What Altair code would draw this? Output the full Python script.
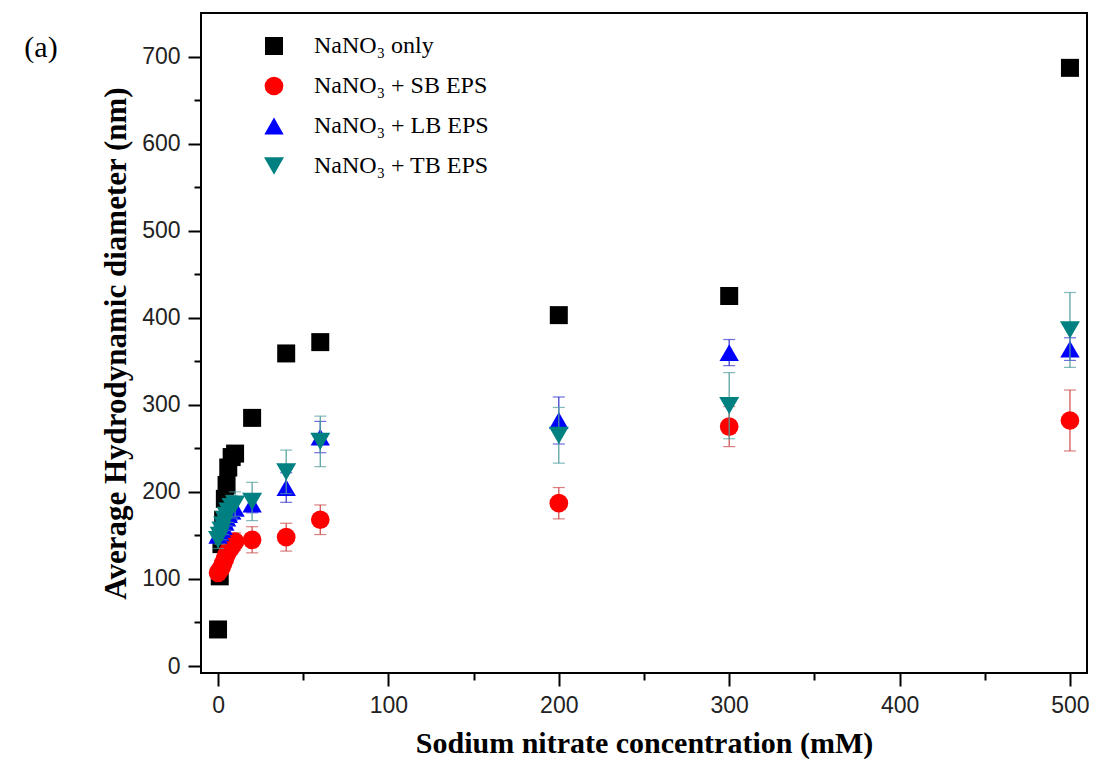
import altair as alt
import pandas as pd

# ---- data ----
series_names = ["NaNO₃ only", "NaNO₃ + SB EPS", "NaNO₃ + LB EPS", "NaNO₃ + TB EPS"]
conc = [0, 1, 2, 3, 4, 5, 6, 8, 10, 20, 40, 60, 200, 300, 500]

nano3 = [42, 103, 140, 168, 192, 208, 228, 240, 244, 285, 359, 372, 403, 425, 687]
nano3_err = [3, 3, 3, 3, 3, 3, 3, 3, 3, 4, 4, 4, 4, 4, 5]

sb = [107, 110, 113, 118, 123, 128, 132, 137, 143, 145, 148, 168, 187, 275, 282]
sb_err = [6, 6, 7, 7, 8, 8, 9, 9, 10, 15, 16, 17, 18, 23, 35]

lb = [150, 153, 157, 160, 165, 170, 174, 178, 181, 186, 205, 263, 282, 360, 364]
lb_err = [8, 8, 9, 9, 10, 10, 11, 11, 12, 10, 17, 18, 27, 15, 13]

tb = [145, 150, 156, 162, 168, 173, 178, 183, 186, 189, 223, 258, 265, 299, 386]
tb_err = [10, 10, 11, 11, 12, 12, 13, 13, 14, 22, 25, 29, 32, 38, 43]

marker_colors = ["#000000", "#ff0000", "#0000ff", "#008080"]
err_colors = ["#000000", "#cc4a4a", "#3030cc", "#4f9c9c"]
shapes = ["square", "circle", "triangle-up", "triangle-down"]
sizes = [324, 400, 576, 576]

x_ticks = [0, 50, 100, 150, 200, 250, 300, 350, 400, 450, 500]
y_ticks = [0, 50, 100, 150, 200, 250, 300, 350, 400, 450, 500, 550, 600, 650, 700]

rows = []
for name, vals, errs in zip(series_names, [nano3, sb, lb, tb],
                            [nano3_err, sb_err, lb_err, tb_err]):
    for c, v, e in zip(conc, vals, errs):
        rows.append({"series": name, "x": c, "y": v, "lo": v - e, "hi": v + e})
df = pd.DataFrame(rows)

xscale = alt.Scale(domain=[-10, 510], nice=False, zero=False)
yscale = alt.Scale(domain=[-8, 750], nice=False, zero=False)

tick_cond = {"condition": {"test": "datum.value % 100 === 0", "value": 13}, "value": 7}

xaxis = alt.Axis(
    values=x_ticks, labelExpr="datum.value % 100 === 0 ? datum.label : ''",
    title="Sodium nitrate concentration (mM)", grid=False, domain=False,
    tickSize=tick_cond, tickWidth=2, tickColor="black",
    labelFont="Liberation Sans", labelFontSize=23, labelColor="#222",
    labelPadding=8, titleFont="Liberation Serif", titleFontSize=30,
    titleFontWeight="bold", titleColor="black", titlePadding=11,
)
yaxis = alt.Axis(
    values=y_ticks, labelExpr="datum.value % 100 === 0 ? datum.label : ''",
    title="Average Hydrodynamic diameter (nm)", grid=False, domain=False,
    tickSize=tick_cond, tickWidth=2, tickColor="black",
    labelFont="Liberation Sans", labelFontSize=23, labelColor="#222",
    labelPadding=8, titleFont="Liberation Serif", titleFontSize=31,
    titleFontWeight="bold", titleColor="black", titlePadding=9,
)

base = alt.Chart(df)
layers = []
for i, name in enumerate(series_names):
    sub = base.transform_filter(alt.datum.series == name)
    err = sub.mark_rule(strokeWidth=1.2, color=err_colors[i]).encode(
        x=alt.X("x:Q", scale=xscale, axis=xaxis),
        y=alt.Y("lo:Q", scale=yscale, axis=yaxis),
        y2="hi:Q",
    )
    caps_lo = sub.mark_tick(orient="horizontal", size=12, thickness=1.2,
                            color=err_colors[i]).encode(
        x=alt.X("x:Q", scale=xscale), y=alt.Y("lo:Q", scale=yscale))
    caps_hi = sub.mark_tick(orient="horizontal", size=12, thickness=1.2,
                            color=err_colors[i]).encode(
        x=alt.X("x:Q", scale=xscale), y=alt.Y("hi:Q", scale=yscale))
    pts = sub.mark_point(filled=True, opacity=1, strokeWidth=0).encode(
        x=alt.X("x:Q", scale=xscale, axis=xaxis),
        y=alt.Y("y:Q", scale=yscale, axis=yaxis),
        color=alt.Color("series:N", scale=alt.Scale(domain=series_names, range=marker_colors),
                        legend=alt.Legend(title=None)),
        shape=alt.Shape("series:N", scale=alt.Scale(domain=series_names, range=shapes),
                        legend=alt.Legend(title=None)),
        size=alt.Size("series:N", scale=alt.Scale(domain=series_names, range=sizes),
                      legend=alt.Legend(title=None)),
    )
    layers += [err, caps_lo, caps_hi, pts]

panel_label = alt.Chart(alt.Data(values=[{"t": "(a)"}])).mark_text(
    font="Liberation Serif", fontSize=30, color="black", align="center", baseline="middle"
).encode(x=alt.value(-160), y=alt.value(35), text="t:N")

chart = alt.layer(*layers, panel_label).properties(
    width=886, height=660,
    autosize=alt.AutoSizeParams(type="none"),
    padding={"left": 193, "top": 5, "right": 2, "bottom": 88},
).configure_view(
    stroke="black", strokeWidth=2
).configure_legend(
    orient="none", legendX=61, legendY=21, padding=0,
    labelFont="Liberation Serif", labelFontSize=24, labelColor="black",
    labelOffset=28, rowPadding=16, symbolStrokeWidth=0, symbolOpacity=1,
    labelLimit=400,
)

chart.save("out.html", embed_options={"renderer": "svg", "actions": False})
